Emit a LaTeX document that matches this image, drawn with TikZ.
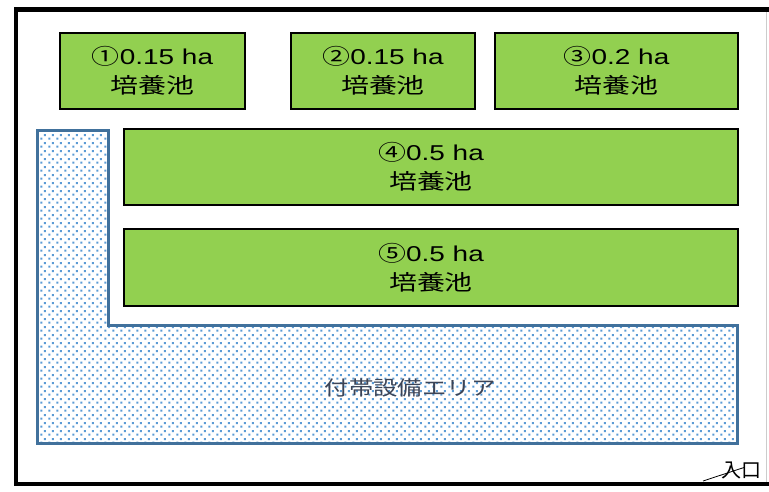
\documentclass[tikz,border=0pt]{standalone}
\usepackage{fontspec}
\setmainfont{Liberation Sans}
\newfontfamily\jp{Noto Sans CJK JP}
\usetikzlibrary{patterns.meta}
\definecolor{poolgreen}{HTML}{92D050}
\definecolor{areaedge}{HTML}{41719C}
\definecolor{dotblue}{HTML}{5B9BD5}
\definecolor{areatext}{RGB}{60,68,86}
\tikzdeclarepattern{
  name=stagdots,
  type=uncolored,
  bounding box={(0pt,0pt) and (8pt,8pt)},
  tile size={(8pt,8pt)},
  code={
    \pgfpathrectangle{\pgfpoint{0.4pt}{0.4pt}}{\pgfpoint{2.3pt}{2.3pt}}
    \pgfpathrectangle{\pgfpoint{4.4pt}{4.4pt}}{\pgfpoint{2.3pt}{2.3pt}}
    \pgfusepath{fill}
  }
}
\newcommand\hsc[1]{\scalebox{1.3}[1]{#1}}
\tikzset{
  pool/.style={draw=black, line width=1.8pt, fill=poolgreen, inner sep=0pt,
    align=center, minimum height=76pt, font=\fontsize{21.5}{29}\selectfont},
  border/.style={line width=4.5pt, black},
  areaborder/.style={draw=areaedge, line width=3pt},
}
\begin{document}
\begin{tikzpicture}[x=1pt,y=-1pt]
\useasboundingbox (0,0) rectangle (769,491);
% outer site border
\draw[gray!40, line width=1pt] (766.5,9.5) -- (766.5,484);
\draw[border] (769,9.5) -- (16,9.5) -- (16,484) -- (769,484);
% ancillary area (L-shape)
\fill[pattern=stagdots, pattern color=dotblue]
  (37,130) -- (108,130) -- (108,325) -- (737,325) -- (737,443) -- (37,443) -- cycle;
\draw[areaborder]
  (37,130) -- (108,130) -- (108,325) -- (737,325) -- (737,443) -- (37,443) -- cycle;
\node[text=areatext, font=\fontsize{20}{24}\selectfont\jp] (area) at (410,388)
  {\scalebox{1.22}[1]{付帯設備エリア}};
% ponds
\node[pool, minimum width=185pt] (p1) at (152.5,71)
  {\hsc{{\jp ①}0.15 ha}\\\hsc{\jp 培養池}};
\node[pool, minimum width=184pt] (p2) at (383,71)
  {\hsc{{\jp ②}0.15 ha}\\\hsc{\jp 培養池}};
\node[pool, minimum width=243pt] (p3) at (616.5,71)
  {\hsc{{\jp ③}0.2 ha}\\\hsc{\jp 培養池}};
\node[pool, minimum width=614pt] (p4) at (431,167)
  {\hsc{{\jp ④}0.5 ha}\\\hsc{\jp 培養池}};
\node[pool, minimum width=614pt, minimum height=77pt] (p5) at (431,267.5)
  {\hsc{{\jp ⑤}0.5 ha}\\\hsc{\jp 培養池}};
% entrance
\node[inner sep=0pt, font=\fontsize{20}{23}\selectfont\jp] (ent) at (741,470.5) {入口};
\coordinate (doorA) at (703,481);
\coordinate (doorB) at (744,467.5);
\draw[line width=0.8pt] (doorA) -- (doorB);
\end{tikzpicture}
\end{document}
